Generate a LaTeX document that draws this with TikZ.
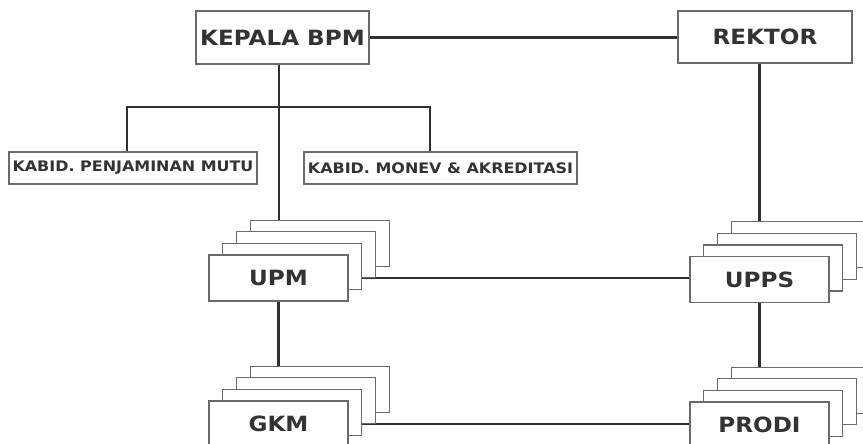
\documentclass[tikz,border=0pt]{standalone}
\usepackage{fontspec}
\newfontfamily\vbold[FakeStretch=1.1]{DejaVu Sans Bold}
\usetikzlibrary{backgrounds}
\definecolor{txt}{HTML}{333333}
\definecolor{bord}{HTML}{6A6A6A}
\definecolor{conn}{HTML}{303030}
\begin{document}
\begin{tikzpicture}[x=1pt,y=-1pt,
  box/.style={draw=bord,line width=1.2pt,fill=white,rectangle,inner sep=0pt,
    text=txt,font=\vbold\fontsize{21}{23}\selectfont},
  bigbox/.style={box,minimum width=173pt,minimum height=53pt,font=\vbold\fontsize{21}{23}\selectfont},
  smallbox/.style={box,minimum height=32pt,font=\vbold\fontsize{14.5}{16}\selectfont},
  unit/.style={box,minimum width=139pt,minimum height=46pt},
  link/.style={draw=conn,line width=2.2pt}]
\useasboundingbox (0,0) rectangle (863,444);
% top boxes
\node[bigbox] (kepala) at (282.5,37.5) {KEPALA BPM};
\node[bigbox,minimum width=174pt,minimum height=52pt] (rektor) at (765,37) {REKTOR};
\node[smallbox,minimum width=248pt] (pm) at (133,168) {KABID. PENJAMINAN MUTU};
\node[smallbox,minimum width=273pt] (monev) at (440.5,168) {KABID. MONEV \& AKREDITASI};
% UPM stack
\node[unit] (upm4) at (319.6,243.1) {};
\node[unit] (upm3) at (305.9,254.7) {};
\node[unit] (upm2) at (292.2,266.4) {};
\node[unit] (upm) at (278.5,278) {UPM};
% GKM stack
\node[unit] (gkm4) at (319.6,389.1) {};
\node[unit] (gkm3) at (305.9,400.7) {};
\node[unit] (gkm2) at (292.2,412.4) {};
\node[unit] (gkm) at (278.5,424) {GKM};
% UPPS stack
\node[unit] (upps4) at (800.6,244.6) {};
\node[unit] (upps3) at (786.9,256.2) {};
\node[unit] (upps2) at (773.2,267.9) {};
\node[unit] (upps) at (759.5,279.5) {UPPS};
% PRODI stack
\node[unit] (prodi4) at (800.6,390.1) {};
\node[unit] (prodi3) at (786.9,401.7) {};
\node[unit] (prodi2) at (773.2,413.4) {};
\node[unit] (prodi) at (759.5,425) {PRODI};
% helper coordinates
\coordinate (sp) at (279,107);
\coordinate (bl) at (127,107);
\coordinate (br) at (430,107);
\begin{scope}[on background layer]
\fill[white] (0,0) rectangle (863,444);
\draw[link] (kepala.east) -- (kepala.east -| rektor.west);
\draw[link] (kepala.south -| sp) -- (upm4.north -| sp);
\draw[link] (pm.north -| bl) -- (bl) -- (br) -- (monev.north -| br);
\draw[link] (rektor.south -| upps) -- (upps4.north -| upps);
\draw[link] (upm.south) -- (gkm4.north -| upm.south);
\draw[link] (upps.south) -- (prodi4.north -| upps.south);
\draw[link] (upm.center) -- (upm.center -| upps.west);
\draw[link] (gkm.center) -- (gkm.center -| prodi.west);
\end{scope}
\end{tikzpicture}
\end{document}
